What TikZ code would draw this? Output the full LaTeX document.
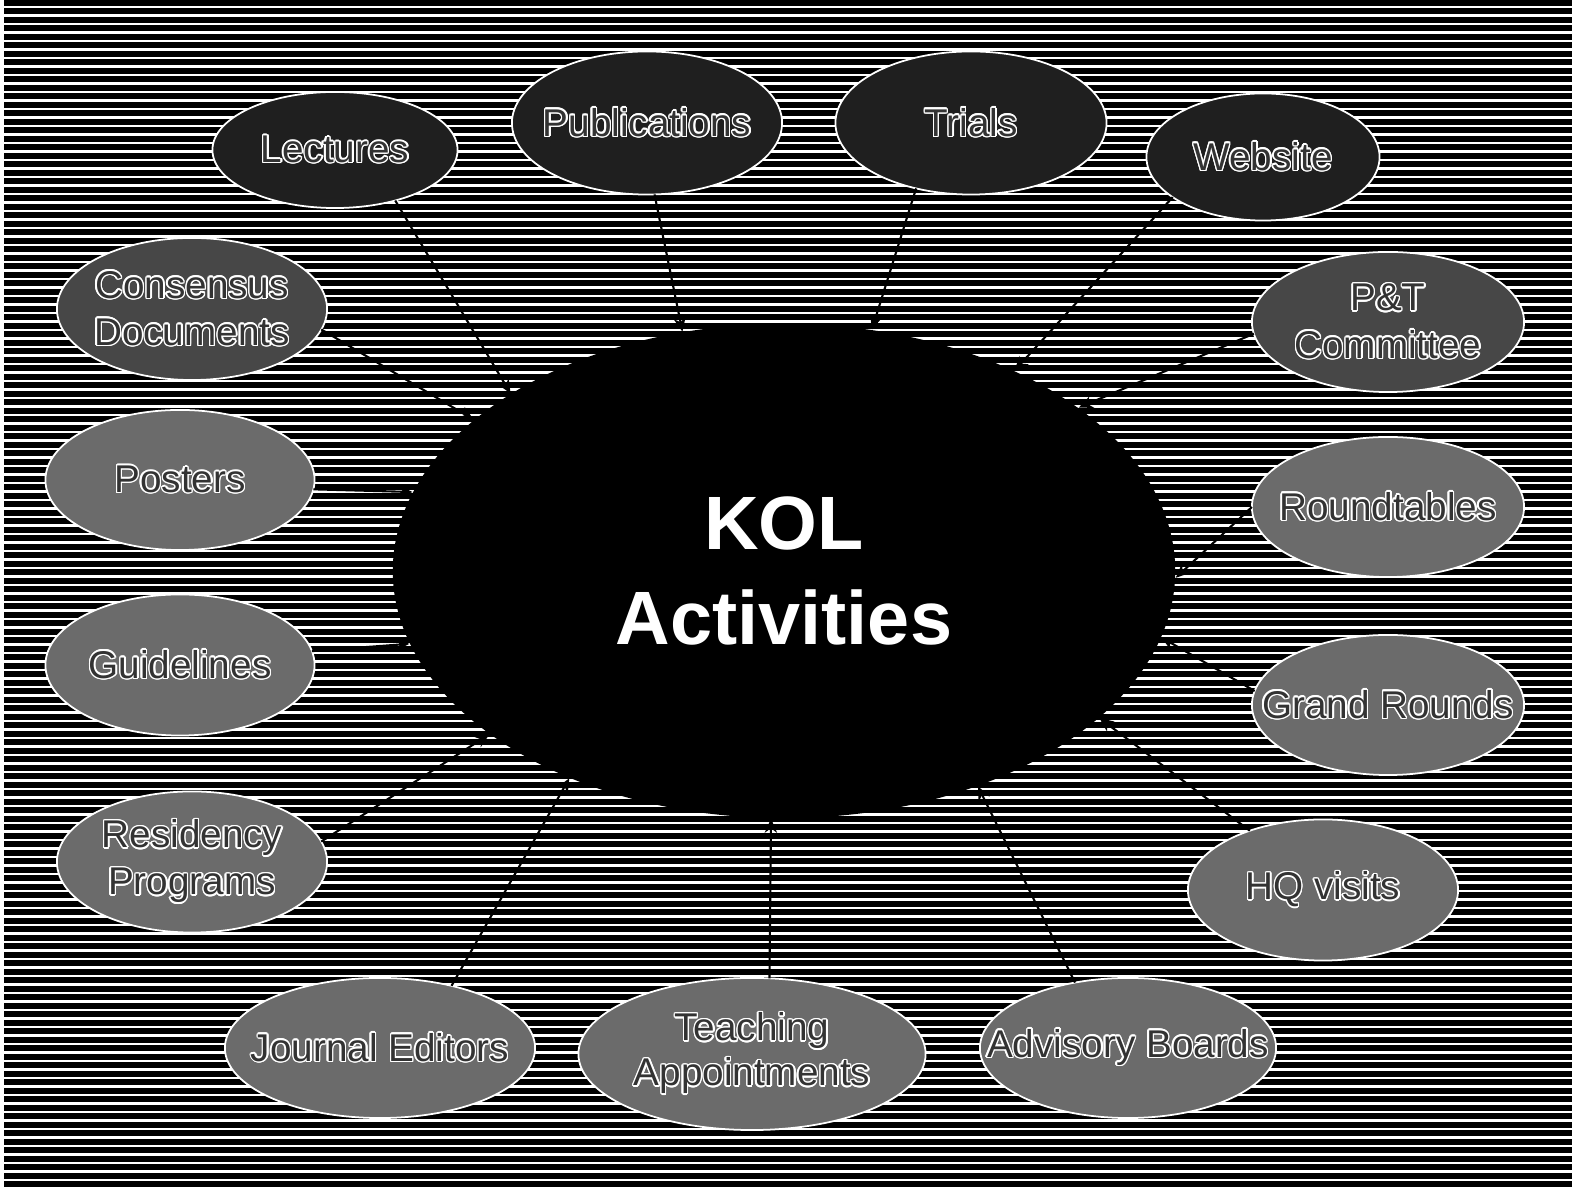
\documentclass[tikz,border=0pt]{standalone}
\usepackage{fontspec}
\setmainfont{Liberation Sans}
\usepackage{contour}
\usetikzlibrary{shapes.geometric,arrows.meta}
\contourlength{0.4pt}
\newcommand{\kolword}[1]{\contour{white}{#1}}
\tikzset{
    kolstripe/.style={white, line width=0.7pt},
    % outer ellipses
    activity/.style={ellipse, draw=white, line width=0.5pt, inner sep=0pt, outer sep=0pt},
    darkact/.style={activity, fill=black!88},
    midact/.style={activity, fill=black!72},
    grayact/.style={activity, fill=black!58},
    actlabel/.style={font=\fontsize{11}{13.4}\selectfont, align=center, text=black!80},
    link/.style={line width=0.6pt, black, -{Stealth[length=4pt, width=3.5pt]}}
}
\begin{document}
\begin{tikzpicture}[x=0.01cm,y=-0.01cm]
\useasboundingbox (0,0) rectangle (1572,1189);
% ===================== background stripes =====================
\fill[black] (0,0) rectangle (1572,1189);
\fill[white] (0,0) rectangle (4,1189);
\foreach \i in {0,...,139}
    \draw[kolstripe] (4,{7+8.5*\i}) -- (1572,{7+8.5*\i});

% ===================== centre =====================
\node[ellipse, fill=black, inner sep=0pt, minimum width=7.82cm, minimum height=4.94cm,
    label={[white, font=\fontsize{21.5}{27}\selectfont\bfseries, align=center]center:KOL\\Activities}] (kol) at (784,571) {};

% ===================== top row =====================
\node[darkact, minimum width=2.45cm, minimum height=1.16cm, label={[actlabel]center:\kolword{Lectures}}] (lect) at (335,150) {};
\node[darkact, minimum width=2.70cm, minimum height=1.43cm, label={[actlabel]center:\kolword{Publications}}] (pub) at (647,123) {};
\node[darkact, minimum width=2.71cm, minimum height=1.43cm, label={[actlabel]center:\kolword{Trials}}] (trial) at (971,123) {};
\node[darkact, minimum width=2.33cm, minimum height=1.27cm, label={[actlabel]center:\kolword{Website}}] (web) at (1263,157) {};

% ===================== left column =====================
\node[midact, minimum width=2.70cm, minimum height=1.42cm, label={[actlabel]center:\kolword{Consensus}\\\kolword{Documents}}] (cons) at (192,309) {};
\node[grayact, minimum width=2.69cm, minimum height=1.40cm, label={[actlabel]center:\kolword{Posters}}] (post) at (180,480) {};
\node[grayact, minimum width=2.69cm, minimum height=1.41cm, label={[actlabel]center:\kolword{Guidelines}}] (guide) at (180,665) {};
\node[grayact, minimum width=2.70cm, minimum height=1.41cm, label={[actlabel]center:\kolword{Residency}\\\kolword{Programs}}] (resid) at (192,862) {};

% ===================== right column =====================
\node[midact, minimum width=2.72cm, minimum height=1.40cm, label={[actlabel]center:\kolword{P\&T}\\\kolword{Committee}}] (pt) at (1388,322) {};
\node[grayact, minimum width=2.72cm, minimum height=1.40cm, label={[actlabel]center:\kolword{Roundtables}}] (round) at (1388,507) {};
\node[grayact, minimum width=2.72cm, minimum height=1.40cm, label={[actlabel]center:\kolword{Grand Rounds}}] (grand) at (1388,705) {};
\node[grayact, minimum width=2.70cm, minimum height=1.41cm, label={[actlabel]center:\kolword{HQ visits}}] (hq) at (1323,890) {};

% ===================== bottom row =====================
\node[grayact, minimum width=3.10cm, minimum height=1.40cm, label={[actlabel]center:\kolword{Journal Editors}}] (journ) at (380,1048) {};
\node[grayact, minimum width=3.47cm, minimum height=1.52cm, label={[actlabel, font=\fontsize{11}{12.8}\selectfont]center:\kolword{Teaching}\\\kolword{Appointments}}] (teach) at (752,1054) {};
\node[grayact, minimum width=2.96cm, minimum height=1.40cm, label={[actlabel]center:\kolword{Advisory Boards}}] (advis) at (1128,1048) {};

% ===================== links =====================
\draw[link] (lect.-40) -- (kol.147);
\draw[link] (pub.-84) -- (kol.113);
\draw[link] (trial.-130) -- (kol.70);
\draw[link] (web.-156) -- (kol.41);
\draw[link] (cons.-9) -- (kol.154);
\draw[link] (pt.-175) -- (kol.29);
\draw[link] (post.-4) -- (kol.168);
\draw[link] (round.180) -- (kol.-1);
\draw[link] (guide.6) -- (kol.-169);
\draw[link] (grand.174) -- (kol.-10);
\draw[link] (resid.9) -- (kol.-151);
\draw[link] (hq.141) -- (kol.-25);
\draw[link] (journ.41) -- (kol.-136);
\draw[link] (teach.77) -- (kol.-93);
\draw[link] (advis.129) -- (kol.-48);
\end{tikzpicture}
\end{document}
